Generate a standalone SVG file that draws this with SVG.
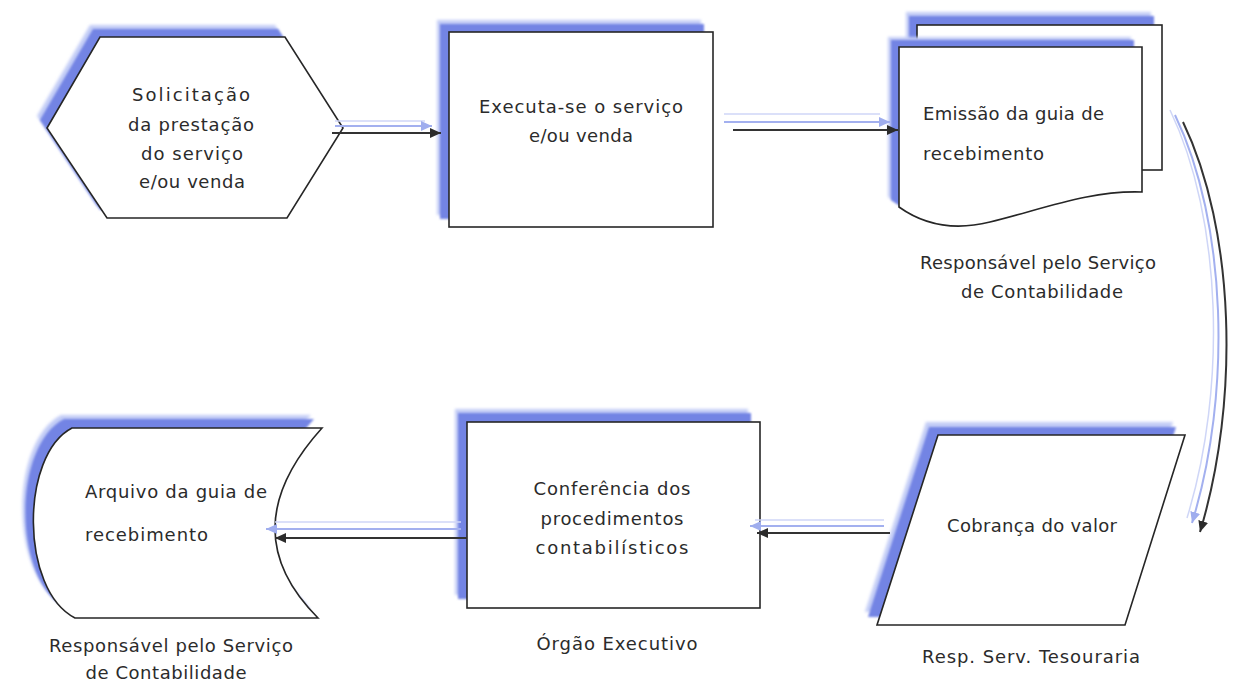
<svg xmlns="http://www.w3.org/2000/svg" xmlns:xlink="http://www.w3.org/1999/xlink" width="1236" height="682" viewBox="0 0 1236 682">
  <style>
    .halo { fill: #c2ccf6; filter: url(#soft); }
    .core { fill: #7384e4; filter: url(#soft1); }
    .shape { fill: #ffffff; stroke: #262626; stroke-width: 1.6; stroke-linejoin: miter; }
    .txt { font-family: "DejaVu Sans", "Liberation Sans", sans-serif; font-size: 18px; fill: #2b2b2b; }
    .mid { text-anchor: middle; }
    .wire { fill: none; stroke: #333333; stroke-width: 2; }
    .wire-shadow { fill: none; stroke: #a3b0ef; stroke-width: 2; }
    .wire-faint { fill: none; stroke: #cfd6f7; stroke-width: 1.5; }
  </style>
  <defs>
    <filter id="soft" x="-10%" y="-10%" width="120%" height="120%">
      <feGaussianBlur stdDeviation="1.6"/>
    </filter>
    <filter id="soft1" x="-10%" y="-10%" width="120%" height="120%">
      <feGaussianBlur stdDeviation="0.8"/>
    </filter>
    <marker id="tip" markerUnits="userSpaceOnUse" markerWidth="12" markerHeight="10" refX="11" refY="5" orient="auto">
      <path d="M0,0 L11,5 L0,10 Z" fill="#2b2b2b"/>
    </marker>
    <marker id="tip-shadow" markerUnits="userSpaceOnUse" markerWidth="12" markerHeight="10" refX="11" refY="5" orient="auto">
      <path d="M0,0 L11,5 L0,10 Z" fill="#9fadee"/>
    </marker>

    <polygon id="hex" points="47,128 100,37 285,37 343,128 287,218 107,218"/>
    <rect id="boxExec" x="449" y="32" width="264" height="195"/>
    <rect id="pageBack" x="917" y="25" width="245" height="145"/>
    <path id="pageFront" d="M899,47 H1142 V192 C1090,190 1040,210 990,222 C950,232 920,222 899,207 Z"/>
    <polygon id="para" points="938,435 1185,435 1125,625 877,625"/>
    <rect id="boxConf" x="467" y="422" width="293" height="186"/>
    <path id="store" d="M72,428 H322 Q230,530 318,618 H75 C20,590 20,455 72,428 Z"/>
  </defs>

  <rect width="1236" height="682" fill="#ffffff"/>

  <!-- request: hexagon -->
  <g id="node-solicitacao">
    <use xlink:href="#hex" href="#hex" class="halo" transform="translate(-10,-12)"/>
    <use xlink:href="#hex" href="#hex" class="core" transform="translate(-7,-8)"/>
    <use xlink:href="#hex" href="#hex" class="shape"/>
    <text class="txt mid" x="191" y="101" textLength="118" lengthAdjust="spacing">Solicitação</text>
    <text class="txt mid" x="191" y="131" textLength="126" lengthAdjust="spacing">da prestação</text>
    <text class="txt mid" x="192" y="160" textLength="102" lengthAdjust="spacing">do serviço</text>
    <text class="txt mid" x="192" y="188" textLength="106" lengthAdjust="spacing">e/ou venda</text>
  </g>

  <!-- process box -->
  <g id="node-executa">
    <use xlink:href="#boxExec" href="#boxExec" class="halo" transform="translate(-12,-12)"/>
    <use xlink:href="#boxExec" href="#boxExec" class="core" transform="translate(-9,-8)"/>
    <use xlink:href="#boxExec" href="#boxExec" class="shape"/>
    <text class="txt mid" x="581" y="113" textLength="204" lengthAdjust="spacing">Executa-se o serviço</text>
    <text class="txt mid" x="581" y="142" textLength="104" lengthAdjust="spacing">e/ou venda</text>
  </g>

  <!-- multi-page document -->
  <g id="node-emissao">
    <use xlink:href="#pageBack" href="#pageBack" class="halo" transform="translate(-11,-13)"/>
    <use xlink:href="#pageBack" href="#pageBack" class="core" transform="translate(-8,-9)"/>
    <use xlink:href="#pageBack" href="#pageBack" class="shape"/>
    <use xlink:href="#pageFront" href="#pageFront" class="halo" transform="translate(-11,-10)"/>
    <use xlink:href="#pageFront" href="#pageFront" class="core" transform="translate(-8,-7)"/>
    <use xlink:href="#pageFront" href="#pageFront" class="shape"/>
    <text class="txt" x="923" y="120" textLength="181" lengthAdjust="spacing">Emissão da guia de</text>
    <text class="txt" x="923" y="160" textLength="121" lengthAdjust="spacing">recebimento</text>
    <text class="txt mid" x="1038" y="269" textLength="236" lengthAdjust="spacing">Responsável pelo Serviço</text>
    <text class="txt mid" x="1042" y="298" textLength="162" lengthAdjust="spacing">de Contabilidade</text>
  </g>

  <!-- input/output: parallelogram -->
  <g id="node-cobranca">
    <use xlink:href="#para" href="#para" class="halo" transform="translate(-12,-13)"/>
    <use xlink:href="#para" href="#para" class="core" transform="translate(-9,-8)"/>
    <use xlink:href="#para" href="#para" class="shape"/>
    <text class="txt mid" x="1032" y="532" textLength="170" lengthAdjust="spacing">Cobrança do valor</text>
    <text class="txt mid" x="1031" y="663" textLength="218" lengthAdjust="spacing">Resp. Serv. Tesouraria</text>
  </g>

  <!-- check box -->
  <g id="node-conferencia">
    <use xlink:href="#boxConf" href="#boxConf" class="halo" transform="translate(-12,-13)"/>
    <use xlink:href="#boxConf" href="#boxConf" class="core" transform="translate(-9,-9)"/>
    <use xlink:href="#boxConf" href="#boxConf" class="shape"/>
    <text class="txt mid" x="612" y="495" textLength="157" lengthAdjust="spacing">Conferência dos</text>
    <text class="txt mid" x="612" y="525" textLength="143" lengthAdjust="spacing">procedimentos</text>
    <text class="txt mid" x="612" y="554" textLength="153" lengthAdjust="spacing">contabilísticos</text>
    <text class="txt mid" x="617" y="650" textLength="161" lengthAdjust="spacing">Órgão Executivo</text>
  </g>

  <!-- stored data -->
  <g id="node-arquivo">
    <use xlink:href="#store" href="#store" class="halo" transform="translate(-11,-13)"/>
    <use xlink:href="#store" href="#store" class="core" transform="translate(-8,-9)"/>
    <use xlink:href="#store" href="#store" class="shape"/>
    <text class="txt" x="85" y="498" textLength="182" lengthAdjust="spacing">Arquivo da guia de</text>
    <text class="txt" x="85" y="541" textLength="123" lengthAdjust="spacing">recebimento</text>
    <text class="txt mid" x="171" y="652" textLength="244" lengthAdjust="spacing">Responsável pelo Serviço</text>
    <text class="txt mid" x="166" y="679" textLength="161" lengthAdjust="spacing">de Contabilidade</text>
  </g>

  <!-- connectors, drawn over the node shadows -->
  <g id="connectors">
    <line class="wire-faint" x1="335" y1="121" x2="425" y2="121"/>
    <line class="wire-shadow" x1="335" y1="126" x2="432" y2="126" marker-end="url(#tip-shadow)"/>
    <line class="wire" x1="332" y1="133" x2="441" y2="133" marker-end="url(#tip)"/>

    <line class="wire-faint" x1="724" y1="114" x2="880" y2="114"/>
    <line class="wire-shadow" x1="724" y1="122" x2="890" y2="122" marker-end="url(#tip-shadow)"/>
    <line class="wire" x1="733" y1="130" x2="898" y2="130" marker-end="url(#tip)"/>

    <path class="wire-faint" d="M1170,110 C1222,218 1227,388 1187,518"/>
    <path class="wire-shadow" d="M1175,115 C1227,223 1232,393 1192,523" marker-end="url(#tip-shadow)"/>
    <path class="wire" d="M1183,122 C1235,230 1240,400 1200,532" marker-end="url(#tip)"/>

    <line class="wire-faint" x1="884" y1="520" x2="755" y2="520"/>
    <line class="wire-shadow" x1="884" y1="526" x2="750" y2="526" marker-end="url(#tip-shadow)"/>
    <line class="wire" x1="890" y1="533" x2="757" y2="533" marker-end="url(#tip)"/>

    <line class="wire-faint" x1="461" y1="522" x2="275" y2="522"/>
    <line class="wire-shadow" x1="461" y1="529" x2="266" y2="529" marker-end="url(#tip-shadow)"/>
    <line class="wire" x1="467" y1="538" x2="275" y2="538" marker-end="url(#tip)"/>
  </g>
</svg>
